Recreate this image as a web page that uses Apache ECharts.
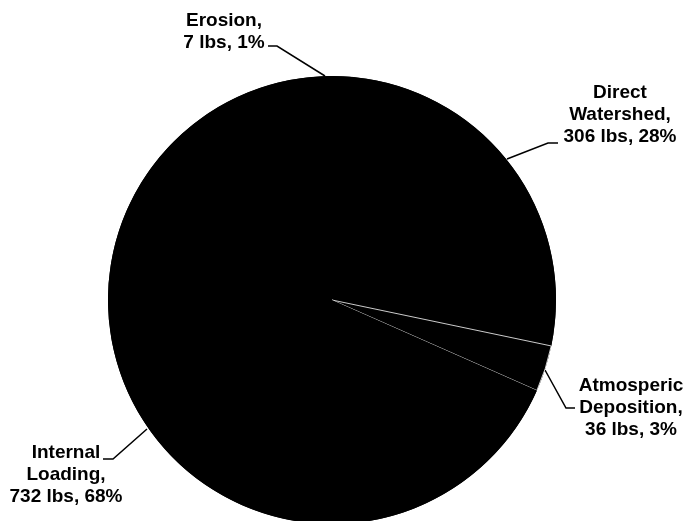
<!DOCTYPE html>
<html>
<head>
<meta charset="utf-8">
<title>Phosphorus loading sources</title>
<script src="https://cdn.jsdelivr.net/npm/echarts@6/dist/echarts.min.js"></script>
<style>
  html, body { margin: 0; padding: 0; background: #fff; }
  #chart { width: 684px; height: 521px; }
</style>
</head>
<body>
<div id="chart"></div>
<script>
// Loading sources (lbs), clockwise from the top of the pie
const categories = ['Erosion', 'Direct Watershed', 'Atmosperic Deposition', 'Internal Loading'];
const loadsLbs = [7, 306, 36, 732];

// Where each label block sits and how its leader line runs (pixels)
const labelPlacement = [
  { x: 224, y: 32,  line: [[268, 46], [277, 46], [325, 76]] },
  { x: 620, y: 115, line: [[558, 143], [548, 143], [507, 159]] },
  { x: 631, y: 408, line: [[575, 408], [566, 408], [545, 370]] },
  { x: 66,  y: 475, line: [[103, 459], [113, 459], [147, 429]] }
];

const total = loadsLbs.reduce((a, b) => a + b, 0);

const pieData = categories.map((name, i) => {
  const item = { name: name, value: loadsLbs[i] };
  if (name === 'Atmosperic Deposition') {
    item.itemStyle = { borderColor: '#ffffff', borderWidth: 0.8 };
  }
  return item;
});

const pieGeometry = {
  type: 'pie',
  center: [332, 300],
  radius: 224,
  startAngle: 92.4,
  clockwise: true,
  avoidLabelOverlap: false,
  emphasis: { disabled: true }
};

const chart = echarts.init(document.getElementById('chart'), null, { renderer: 'canvas' });

chart.setOption({
  backgroundColor: '#ffffff',
  animation: false,
  series: [
    // one-slice underlay (the grand total) so seams between slices stay black
    Object.assign({}, pieGeometry, {
      z: 1,
      silent: true,
      itemStyle: { color: '#000000', borderWidth: 0 },
      label: { show: false },
      labelLine: { show: false },
      data: [{ name: 'Total', value: total }]
    }),
    Object.assign({}, pieGeometry, {
      z: 2,
      itemStyle: { color: '#000000', borderWidth: 0 },
      data: pieData,
      label: {
        show: true,
        color: '#000000',
        fontFamily: 'Liberation Sans',
        fontWeight: 'bold',
        fontSize: 19,
        lineHeight: 22,
        align: 'center',
        formatter: function (p) {
          const pct = Math.round(p.value / total * 100);
          return p.name.replace(' ', '\n') + ',\n' + p.value + ' lbs, ' + pct + '%';
        }
      },
      labelLine: {
        show: true,
        lineStyle: { color: '#000000', width: 1.5 }
      },
      labelLayout: function (params) {
        const pl = labelPlacement[params.dataIndex];
        return {
          x: pl.x,
          y: pl.y,
          align: 'center',
          verticalAlign: 'middle',
          labelLinePoints: pl.line
        };
      }
    })
  ]
});
</script>
</body>
</html>
